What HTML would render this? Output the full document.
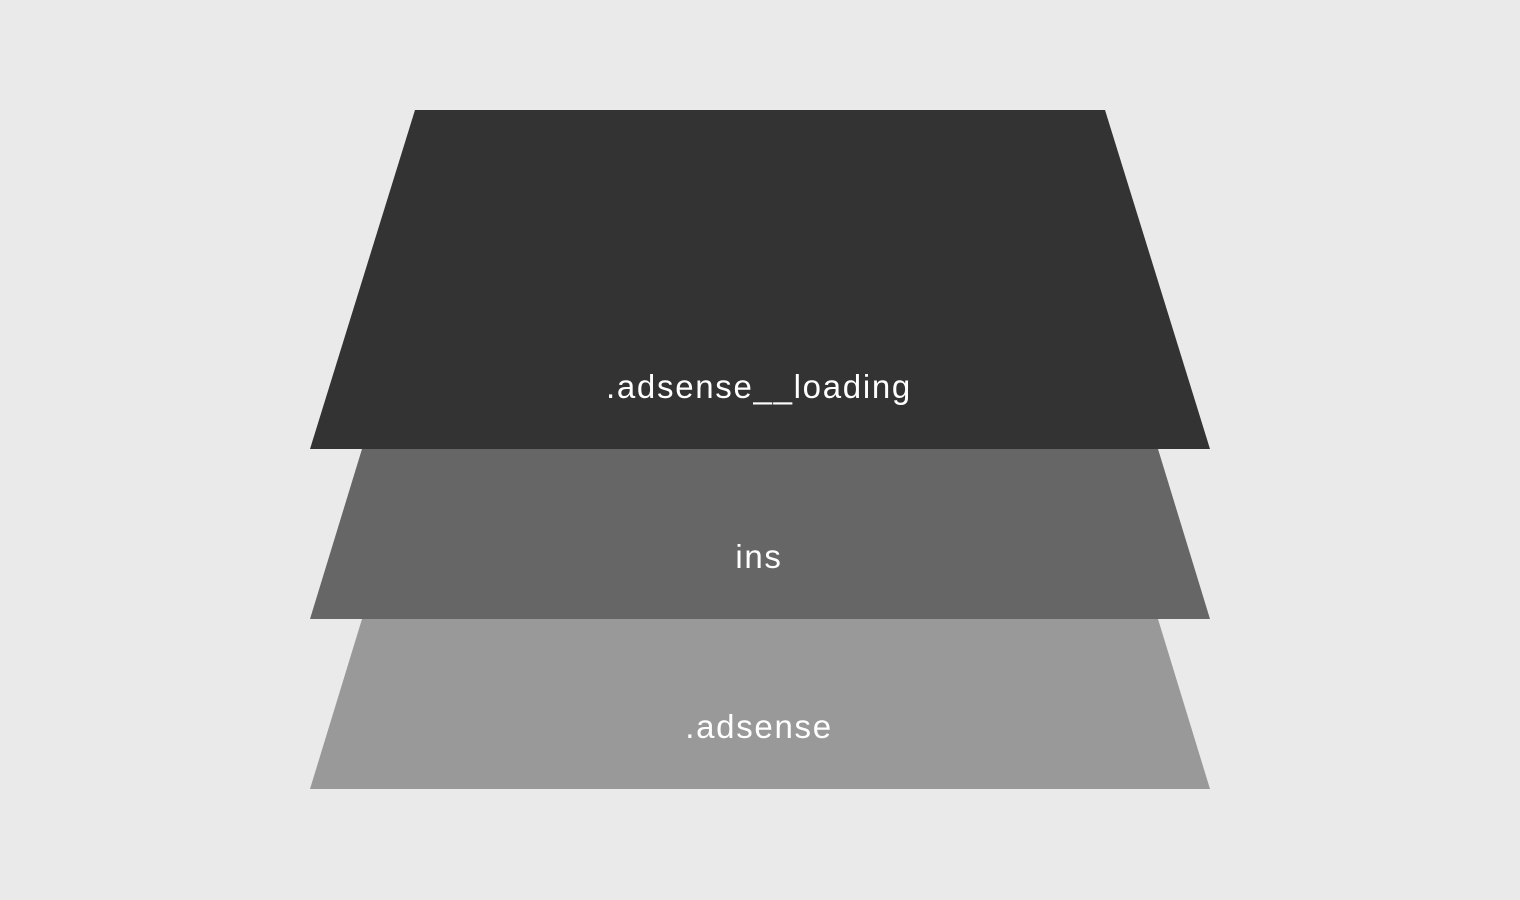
<!DOCTYPE html>
<html><head><meta charset="utf-8"><style>
html,body{margin:0;padding:0;background:#eaeaea;}
svg{display:block;}
text{font-family:"Liberation Sans",sans-serif;font-size:33px;fill:#fff;text-anchor:middle;letter-spacing:1.7px;}
</style></head><body>
<svg width="1520" height="900" viewBox="0 0 1520 900">
<rect width="1520" height="900" fill="#eaeaea"/>
<g>
<polygon points="362,619 1158,619 1210,789 310,789" fill="#999999"/>
<text x="759" y="738">.adsense</text>
</g>
<g>
<polygon points="362,449 1158,449 1210,619 310,619" fill="#666666"/>
<text x="759" y="568">ins</text>
</g>
<g>
<polygon points="415,110 1105,110 1210,449 310,449" fill="#333333"/>
<text x="759" y="398">.adsense__loading</text>
</g>
</svg>
</body></html>
